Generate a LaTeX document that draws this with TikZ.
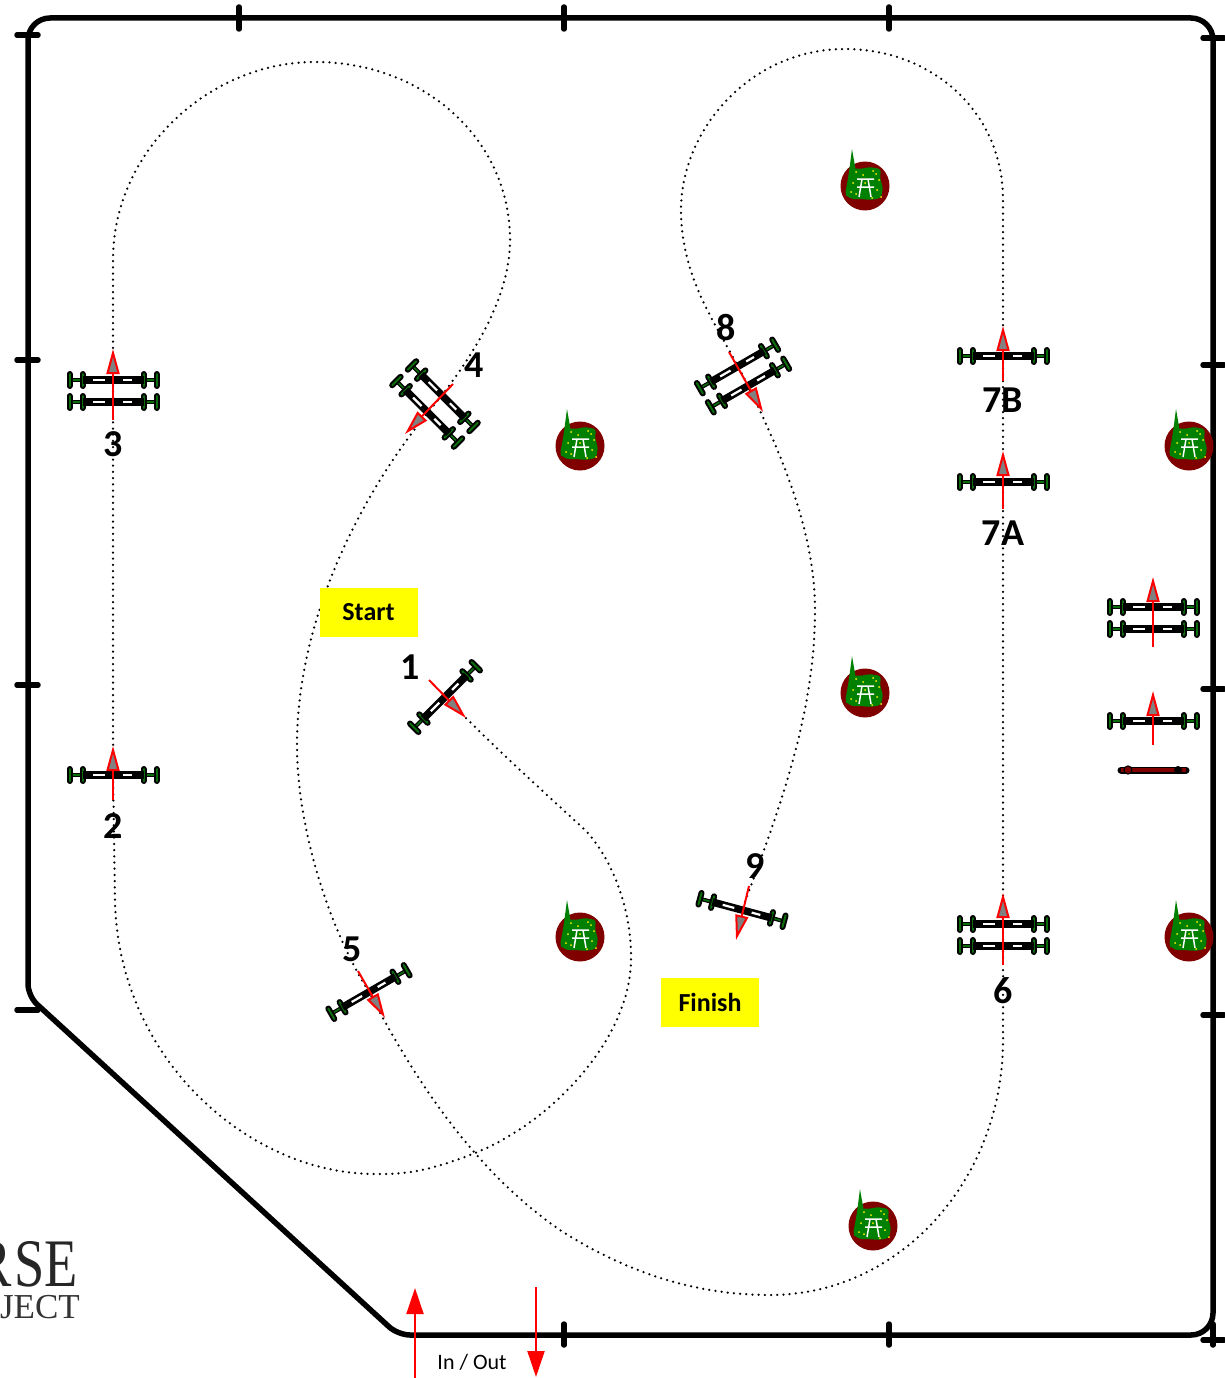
\documentclass[tikz,border=0pt]{standalone}
\usepackage{fontspec}
\setmainfont{Carlito}
\newfontfamily\logofont{Liberation Serif}
\usetikzlibrary{arrows.meta}
\definecolor{hedgegreen}{RGB}{0,128,0}
\definecolor{postgreen}{RGB}{10,110,10}
\definecolor{potred}{RGB}{128,0,0}
\definecolor{signyellow}{RGB}{255,255,0}

\begin{document}
\begin{tikzpicture}[
  x=1pt, y=-1pt,
  arena/.style={line width=5.5pt, line join=round},
  tick/.style={line width=5.5pt, line cap=round},
  course/.style={line width=2.5pt, line cap=round, dash pattern=on 0pt off 6.2pt},
  post/.style={line width=2pt, draw=black, double=postgreen, double distance=2pt, line cap=round},
  crossbar/.style={line width=1.2pt, draw=black, double=postgreen, double distance=1.6pt},
  jumparrow/.style={red, line width=2pt, -{Triangle[length=25pt, width=13pt, line width=2pt, fill=gray]}},
  inoutarrow/.style={red, line width=2pt, -{Triangle[length=26pt, width=17pt]}},
  number/.style={font=\fontsize{38}{38}\selectfont\bfseries, inner sep=0pt},
  sign/.style={fill=signyellow, minimum width=98pt, minimum height=49pt, inner sep=0pt, font=\fontsize{26}{26}\selectfont\bfseries},
  fence/.pic={
    \draw[crossbar] (-43.5,0) -- (-30.5,0);
    \draw[crossbar] (43.5,0) -- (30.5,0);
    \foreach \postx in {-43.5,-30.5,30.5,43.5}
      \draw[post] (\postx,-6) -- (\postx,6);
    \draw[line width=7.5pt] (-30.5,0) -- (30.5,0);
    \draw[white, line width=2.2pt] (-20,0) -- (-8,0) (10,0) -- (19,0);
  },
  doublefence/.pic={
    \pic[transform shape] at (0,-11) {fence};
    \pic[transform shape] at (0,11) {fence};
  },
  tree/.pic={
    \fill[potred] (0,0) circle (24.5);
    \fill[hedgegreen, rounded corners=3pt] (-15,-18) -- (-5,-17) -- (5,-19) -- (16,-17) -- (15,-8) -- (18,2) -- (16,12) -- (6,14) -- (-4,13) -- (-14,13) -- (-20,8) -- cycle;
    \fill[hedgegreen] (-13,-37) -- (-9,-14) -- (-6,10) -- (-19,10) -- (-16,-14) -- cycle;
    \draw[white, line width=1.5pt] (-8,-7) -- (9,-7) (-8,1) -- (9,1) (-3,-7) -- (-6,11) (3,-7) -- (6,11);
    \foreach \dotx/\doty in {-9/-14,-2/-11,8/-15,14/-6,-12/-3,12/4,-9/8,7/12,16/11,0/-3,-14/6,11/-12}
      \fill[yellow] (\dotx,\doty) circle (1);
  }
]
  \useasboundingbox (0,0) rectangle (1225,1378);
  \fill[white] (0,0) rectangle (1225,1378);

  \draw[arena, rounded corners=22pt] (28,18) -- (1213,18) -- (1213,1335) [rounded corners=12pt] -- (398,1335) -- (28,996) [rounded corners=22pt] -- cycle;
  \foreach \tickx in {239,564,889}
    \draw[tick] (\tickx,7) -- (\tickx,29);
  \foreach \tickx in {564,889,1213}
    \draw[tick] (\tickx,1324) -- (\tickx,1345);
  \foreach \ticky in {35,360,685,1010}
    \draw[tick] (17,\ticky) -- (38,\ticky);
  \foreach \ticky in {38,365,689,1015,1340}
    \draw[tick] (1203,\ticky) -- (1224,\ticky);

  \draw[course] (466,718) .. controls (510,762) and (555,802) .. (585,830)
    .. controls (612,858) and (632,910) .. (631,960)
    .. controls (630,1040) and (550,1125) .. (470,1155)
    .. controls (420,1174) and (400,1174) .. (375,1174)
    .. controls (250,1174) and (118,1060) .. (115,900)
    -- (113,775) -- (113,260)
    .. controls (113,150) and (210,62) .. (315,62)
    .. controls (425,62) and (510,140) .. (510,240)
    .. controls (510,300) and (470,360) .. (435,404)
    .. controls (370,480) and (297,610) .. (297,745)
    .. controls (297,830) and (330,930) .. (369,992)
    .. controls (420,1090) and (480,1175) .. (560,1230)
    .. controls (630,1275) and (700,1295) .. (770,1295)
    .. controls (900,1295) and (1003,1180) .. (1003,1040)
    -- (1003,200)
    .. controls (1003,110) and (930,49) .. (845,49)
    .. controls (750,49) and (681,130) .. (681,210)
    .. controls (681,280) and (720,330) .. (743,376)
    .. controls (780,450) and (815,530) .. (815,610)
    .. controls (815,720) and (775,820) .. (742,910);

  \pic[rotate=45] (fenceone) at (445,697) {fence};
  \pic (fencetwo) at (113,775) {fence};
  \pic (fencethree) at (113,391) {doublefence};
  \pic[rotate=-45] (fencefour) at (435,404) {doublefence};
  \pic[rotate=30] (fencefive) at (369,992) {fence};
  \pic (fencesix) at (1003,935) {doublefence};
  \pic (fencesevena) at (1003,482) {fence};
  \pic (fencesevenb) at (1003,356) {fence};
  \pic[rotate=30] (fenceeight) at (743,376) {doublefence};
  \pic[rotate=-15] (fencenine) at (742,910) {fence};
  \pic (warmupdouble) at (1153,618) {doublefence};
  \pic (warmupsingle) at (1153,721) {fence};

  \draw[line width=7pt, line cap=round] (1121,770) -- (1186,770);
  \draw[potred, line width=3.8pt] (1121,770) -- (1186,770);
  \fill[potred, draw=black, line width=1.2pt] (1128,770) circle (4);
  \fill[black] (1178,770) circle (4);

  \draw[jumparrow] (429,680) -- (466,718);
  \draw[jumparrow] (113,800) -- (113,746);
  \draw[jumparrow] (113,420) -- (113,349);
  \draw[jumparrow] (453,384) -- (405,434);
  \draw[jumparrow] (358,971) -- (385,1018);
  \draw[jumparrow] (1003,965) -- (1003,893);
  \draw[jumparrow] (1003,509) -- (1003,451);
  \draw[jumparrow] (1003,381) -- (1003,326);
  \draw[jumparrow] (729,352) -- (763,412);
  \draw[jumparrow] (749,886) -- (736,940);
  \draw[jumparrow] (1153,647) -- (1153,577);
  \draw[jumparrow] (1153,745) -- (1153,691);

  \foreach \treex/\treey in {865/186,580/446,1189/446,865/693,580/937,1189/937,873/1226}
    \pic at (\treex,\treey) {tree};

  \node[number] (numone) at (410,667) {1};
  \node[number] (numtwo) at (113,826) {2};
  \node[number] (numthree) at (113,444) {3};
  \node[number] (numfour) at (474,365) {4};
  \node[number] (numfive) at (352,949) {5};
  \node[number] (numsix) at (1003,991) {6};
  \node[number] (numsevena) at (1003,533) {7A};
  \node[number] (numsevenb) at (1003,400) {7B};
  \node[number] (numeight) at (726,328) {8};
  \node[number] (numnine) at (755,866) {9};

  \node[sign] (start) at (368.5,612.5) {Start};
  \node[sign] (finish) at (710,1002.5) {Finish};

  \coordinate (intail) at (415,1378);
  \coordinate (inhead) at (415,1288);
  \coordinate (outtail) at (536,1287);
  \coordinate (outhead) at (536,1377);
  \draw[inoutarrow] (intail) -- (inhead);
  \draw[inoutarrow] (outtail) -- (outhead);
  \node[font=\fontsize{22}{22}\selectfont, inner sep=0pt] (inout) at (472,1362) {In / Out};

  \node[font=\logofont\fontsize{68}{68}\selectfont, xscale=0.8, anchor=base east, inner sep=0pt, text=black!85] (logotop) at (78,1286) {R\kern3pt SE};
  \node[font=\logofont\fontsize{35}{35}\selectfont, anchor=base east, inner sep=0pt, text=black!80] (logobottom) at (80,1318) {OJECT};
\end{tikzpicture}
\end{document}
